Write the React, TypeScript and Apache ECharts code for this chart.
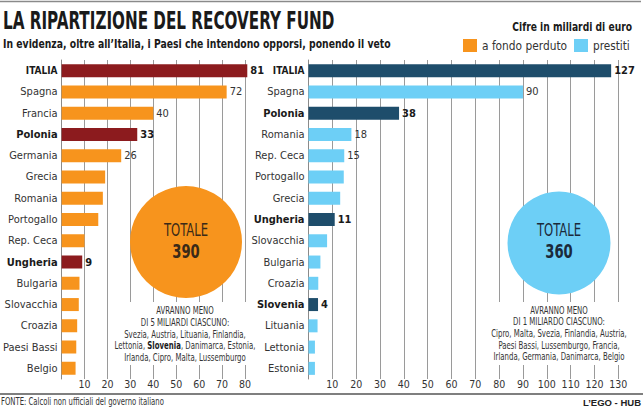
import React, { useEffect, useRef } from "react";
import * as echarts from "echarts";

const FONT = '"DejaVu Sans Condensed", "Liberation Sans Narrow", sans-serif';

const leftCategories = ["ITALIA", "Spagna", "Francia", "Polonia", "Germania", "Grecia", "Romania", "Portogallo", "Rep. Ceca", "Ungheria", "Bulgaria", "Slovacchia", "Croazia", "Paesi Bassi", "Belgio"];
const leftValues = [81, 72, 40, 33, 26, 19, 18, 16, 10, 9, 7.8, 7.5, 6.8, 6.4, 6.1];
const leftHighlighted = ["ITALIA", "Polonia", "Ungheria"];
const leftLabeled = ["ITALIA", "Spagna", "Francia", "Polonia", "Germania", "Ungheria"];

const rightCategories = ["ITALIA", "Spagna", "Polonia", "Romania", "Rep. Ceca", "Portogallo", "Grecia", "Ungheria", "Slovacchia", "Bulgaria", "Croazia", "Slovenia", "Lituania", "Lettonia", "Estonia"];
const rightValues = [127, 90, 38, 18, 15, 14.8, 13.3, 11, 7.8, 5, 4.1, 4, 3.8, 2.7, 2.7];
const rightHighlighted = ["ITALIA", "Polonia", "Ungheria", "Slovenia"];
const rightLabeled = ["ITALIA", "Spagna", "Polonia", "Romania", "Rep. Ceca", "Ungheria", "Slovenia"];

const leftAxisMax = 80;
const rightAxisMax = 130;
const tickInterval = 10;

const totalLeft = "390";
const totalRight = "360";
const leftNoteLines = [
  "AVRANNO MENO",
  "DI 5 MILIARDI CIASCUNO:",
  "Svezia, Austria, Lituania, Finlandia,",
  "Lettonia, {b|Slovenia}, Danimarca, Estonia,",
  "Irlanda, Cipro, Malta, Lussemburgo",
];
const rightNoteLines = [
  "AVRANNO MENO",
  "DI 1 MILIARDO CIASCUNO:",
  "Cipro, Malta, Svezia, Finlandia, Austria,",
  "Paesi Bassi, Lussemburgo, Francia,",
  "Irlanda, Germania, Danimarca, Belgio",
];

const ORANGE = "#f7941d";
const DARK_RED = "#8c1b1e";
const LIGHT_BLUE = "#6dcff6";
const DARK_BLUE = "#1e4d6b";

function buildData(cats: string[], vals: number[], hi: string[], lab: string[], base: string, dark: string) {
  return cats.map((c, i) => ({
    value: vals[i],
    itemStyle: { color: hi.includes(c) ? dark : base },
    label: {
      show: lab.includes(c),
      fontWeight: hi.includes(c) ? "bold" : "normal",
      color: hi.includes(c) ? "#1a1a1a" : "#333",
    },
  }));
}

function yAxisFor(cats: string[], hi: string[], gridIndex: number) {
  return {
    type: "category",
    gridIndex,
    data: cats,
    inverse: true,
    axisTick: { show: false },
    axisLine: { show: true, lineStyle: { color: "#8a8a8a", width: 1 } },
    axisLabel: {
      margin: 4,
      formatter: (v: string) => (v === "ITALIA" ? `{c|${v}}` : hi.includes(v) ? `{b|${v}}` : `{n|${v}}`),
      rich: {
        c: { fontFamily: FONT, fontSize: 10, fontWeight: "bold", color: "#1a1a1a" },
        b: { fontFamily: FONT, fontSize: 11, fontWeight: "bold", color: "#1a1a1a" },
        n: { fontFamily: FONT, fontSize: 11, color: "#333" },
      },
    },
  };
}

function xAxisFor(max: number, gridIndex: number) {
  return {
    type: "value",
    gridIndex,
    min: 0,
    max,
    interval: tickInterval,
    axisLine: { show: false },
    axisTick: { show: false },
    splitLine: { show: true, lineStyle: { color: "#9a9a9a", width: 1 } },
    axisLabel: {
      margin: -1,
      showMinLabel: false,
      fontFamily: FONT,
      fontSize: 10.5,
      color: "#333",
      formatter: (v: number) => (v === 0 ? "" : String(v)),
    },
  };
}

function txt(x: number, y: number, text: string, opts: any = {}, scaleX = 1) {
  const { align, ...style } = opts;
  return {
    type: "text",
    x,
    y,
    scaleX,
    z: 100,
    style: {
      text,
      fontFamily: FONT,
      fill: "#333",
      align: align || "left",
      verticalAlign: "middle",
      ...style,
    },
  };
}

export default function App() {
  const ref = useRef<HTMLDivElement>(null);
  useEffect(() => {
    if (!ref.current) return;
    const chart = echarts.init(ref.current, undefined, { renderer: "svg" });
    const noteRich = { b: { fontFamily: FONT, fontSize: 11, fontWeight: "bold", fill: "#1a1a1a", color: "#1a1a1a" } };
    const option: any = {
      animation: false,
      backgroundColor: "#ffffff",
      grid: [
        { left: 54, top: 60, width: 191, height: 319 },
        { left: 308.5, top: 60, width: 309.8, height: 319 },
      ],
      xAxis: [xAxisFor(leftAxisMax, 0), xAxisFor(rightAxisMax, 1)],
      yAxis: [yAxisFor(leftCategories, leftHighlighted, 0), yAxisFor(rightCategories, rightHighlighted, 1)],
      series: [
        {
          type: "bar",
          xAxisIndex: 0,
          yAxisIndex: 0,
          barWidth: 13,
          clip: false,
          label: { show: false, position: "right", distance: 3, fontFamily: FONT, fontSize: 11 },
          data: buildData(leftCategories, leftValues, leftHighlighted, leftLabeled, ORANGE, DARK_RED),
        },
        {
          type: "bar",
          xAxisIndex: 1,
          yAxisIndex: 1,
          barWidth: 13,
          clip: false,
          label: { show: false, position: "right", distance: 3, fontFamily: FONT, fontSize: 11 },
          data: buildData(rightCategories, rightValues, rightHighlighted, rightLabeled, LIGHT_BLUE, DARK_BLUE),
        },
      ],
      graphic: [
        { type: "line", z: 100, shape: { x1: 0, y1: 1.5, x2: 641, y2: 1.5 }, style: { stroke: "#8a8a8a", lineWidth: 1.5 } },
        txt(3, 20.5, "LA RIPARTIZIONE DEL RECOVERY FUND", { fontSize: 24.5, fontWeight: "bold", fill: "#1a1a1a" }, 0.69),
        txt(3, 44.5, "In evidenza, oltre all\u2019Italia, i Paesi che intendono opporsi, ponendo il veto", { fontSize: 12, fontWeight: "bold", fill: "#1a1a1a" }, 0.86),
        txt(632, 27, "Cifre in miliardi di euro", { fontSize: 12, fontWeight: "bold", fill: "#1a1a1a", align: "right" }, 0.85),
        { type: "rect", z: 100, shape: { x: 463, y: 39, width: 14, height: 13 }, style: { fill: ORANGE } },
        txt(482, 45.5, "a fondo perduto", { fontSize: 13, fill: "#333" }, 0.91),
        { type: "rect", z: 100, shape: { x: 574, y: 39, width: 14, height: 13 }, style: { fill: LIGHT_BLUE } },
        txt(593, 45.5, "prestiti", { fontSize: 13, fill: "#333" }, 0.9),

        { type: "circle", z: 100, shape: { cx: 186, cy: 242, r: 56 }, style: { fill: ORANGE } },
        txt(186, 230, "TOTALE", { fontSize: 18, fill: "#3a2a18", align: "center" }, 0.72),
        txt(186, 251, totalLeft, { fontSize: 19.5, fontWeight: "bold", fill: "#3a2a18", align: "center" }, 0.75),
        { type: "circle", z: 100, shape: { cx: 559, cy: 243, r: 51.5 }, style: { fill: LIGHT_BLUE } },
        txt(559, 230, "TOTALE", { fontSize: 18, fill: "#1b2a3a", align: "center" }, 0.72),
        txt(559, 251, totalRight, { fontSize: 19.5, fontWeight: "bold", fill: "#1b2a3a", align: "center" }, 0.75),

        { type: "rect", z: 99, shape: { x: 117, y: 302, width: 136, height: 63 }, style: { fill: "#ffffff" } },
        {
          type: "text", x: 185, y: 304.5, scaleX: 0.705, z: 100,
          style: { text: leftNoteLines.join("\n"), fontFamily: FONT, fontSize: 11, lineHeight: 11.7, fill: "#333", align: "center", verticalAlign: "top", rich: noteRich },
        },
        { type: "rect", z: 99, shape: { x: 492, y: 302, width: 134, height: 63 }, style: { fill: "#ffffff" } },
        {
          type: "text", x: 559, y: 304, scaleX: 0.705, z: 100,
          style: { text: rightNoteLines.join("\n"), fontFamily: FONT, fontSize: 11, lineHeight: 11.6, fill: "#333", align: "center", verticalAlign: "top" },
        },

        { type: "line", z: 100, shape: { x1: 0, y1: 394, x2: 643, y2: 394 }, style: { stroke: "#555", lineWidth: 1.5 } },
        txt(1, 402, "FONTE: Calcoli non ufficiali del governo italiano", { fontSize: 10, fill: "#333" }, 0.765),
        txt(641, 402, "L\u2019EGO - HUB", { fontSize: 9.5, fontWeight: "bold", fill: "#222", align: "right", fontFamily: '"Liberation Sans", Arial, sans-serif' }),
      ],
    };
    chart.setOption(option);
    return () => chart.dispose();
  }, []);
  return <div ref={ref} style={{ position: "fixed", left: 0, top: 0, width: 643, height: 407 }} />;
}
